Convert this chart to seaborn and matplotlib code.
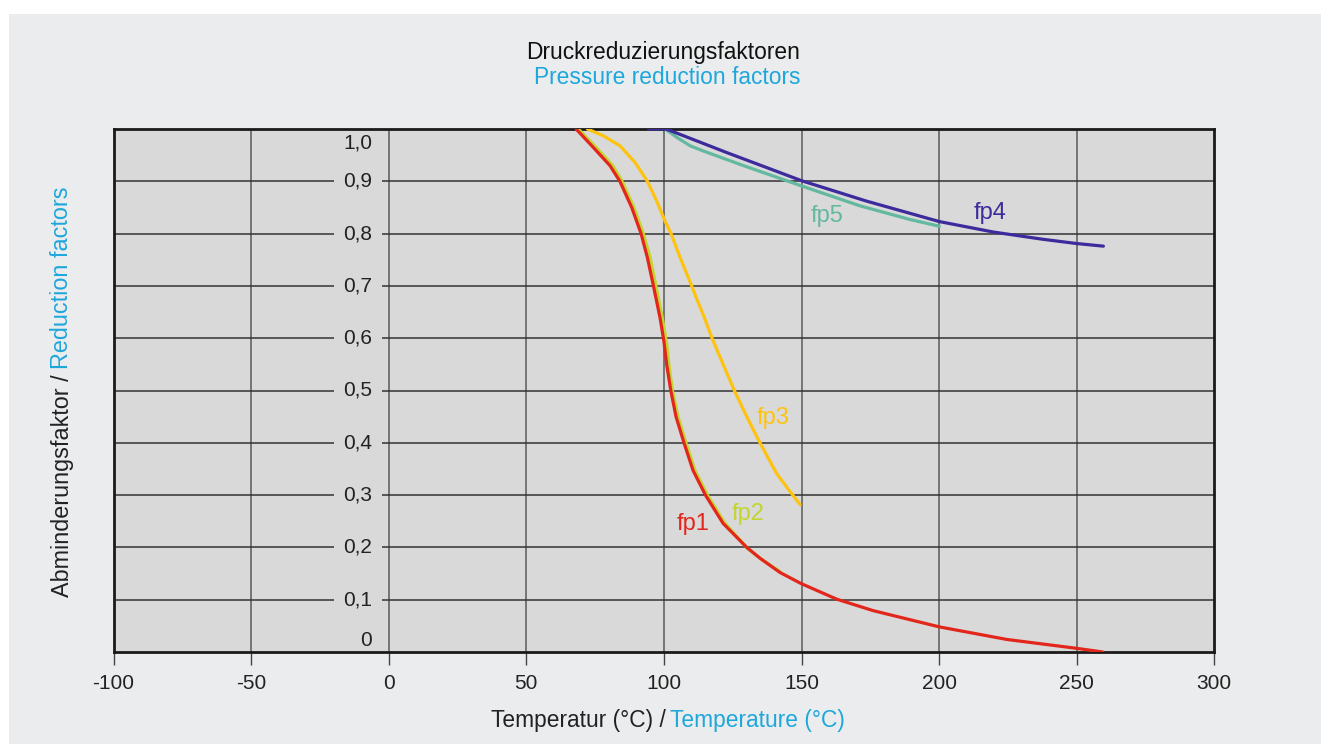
import numpy as np
import pandas as pd
import matplotlib
matplotlib.use("Agg")
import matplotlib.pyplot as plt
import seaborn as sns
from matplotlib.patches import Rectangle

# ---------------- data ----------------
fp1_x = [68.1, 74.3, 80.4, 84.0, 88.3, 91.7, 94.0, 96.2, 98.6, 100.0, 101.0, 102.5, 104.4,
         107.3, 110.6, 115.1, 121.5, 130.1, 135.0, 142.2, 149.8, 162.8, 176.1, 200.1,
         224.6, 250.0, 259.5]
fp1_y = [1.0, 0.965, 0.93, 0.90, 0.85, 0.80, 0.754, 0.70, 0.639, 0.594, 0.55, 0.50, 0.45,
         0.40, 0.347, 0.30, 0.246, 0.20, 0.179, 0.152, 0.131, 0.101, 0.079, 0.048,
         0.024, 0.007, 0.0]

fp2_x = [68.9, 75.3, 81.4, 84.8, 89.1, 92.5, 95.0, 97.1, 99.4, 101.0, 101.8, 103.1, 105.1,
         108.0, 111.3, 115.8, 122.2, 130.6, 136.0, 142.2]
fp2_y = [1.0, 0.965, 0.93, 0.90, 0.85, 0.80, 0.754, 0.70, 0.639, 0.59, 0.55, 0.50, 0.45,
         0.40, 0.347, 0.30, 0.246, 0.197, 0.175, 0.154]

fp3_x = [72.2, 78.0, 84.0, 89.5, 94.0, 97.4, 100.4, 102.6, 105.9, 110.1, 112.0, 114.3, 117.5,
         121.6, 125.6, 130.1, 135.2, 141.0, 145.8, 149.5]
fp3_y = [1.0, 0.987, 0.968, 0.936, 0.90, 0.862, 0.824, 0.80, 0.754, 0.70, 0.674, 0.645, 0.60,
         0.549, 0.50, 0.45, 0.397, 0.341, 0.307, 0.282]

fp4_x = [94.4, 100.5, 102.3, 122.8, 150.1, 173.7, 200.1, 219.7, 237.9, 250.0, 259.7]
fp4_y = [1.0, 1.0, 0.997, 0.955, 0.901, 0.862, 0.823, 0.803, 0.789, 0.781, 0.776]

fp5_x = [100.5, 104.7, 109.5, 114.3, 128.9, 150.1, 171.3, 189.4, 200.1]
fp5_y = [1.0, 0.984, 0.968, 0.958, 0.930, 0.891, 0.853, 0.827, 0.814]

series_names = ["fp1", "fp2", "fp3", "fp4", "fp5"]
series_colors = ["#e2261c", "#c3d52a", "#fdc30f", "#3b2b9c", "#62b99f"]

x_ticks = [-100, -50, 0, 50, 100, 150, 200, 250, 300]
y_ticks = [0.0, 0.1, 0.2, 0.3, 0.4, 0.5, 0.6, 0.7, 0.8, 0.9, 1.0]
y_tick_labels = ["0", "0,1", "0,2", "0,3", "0,4", "0,5", "0,6", "0,7", "0,8", "0,9", "1,0"]

# ---------------- figure ----------------
sns.set_theme(style="white")
plt.rcParams["font.family"] = ["Liberation Sans", "DejaVu Sans"]

W, H = 1321, 744
BG = "#ebeced"
PLOT_BG = "#d9d9d9"
TXT = "#222222"
CYAN = "#1ea7dc"

fig = plt.figure(figsize=(W / 100, H / 100), dpi=100, facecolor="white")
fig.patches.append(Rectangle((9 / W, 0), 1 - 9 / W, (H - 14) / H, transform=fig.transFigure,
                             facecolor=BG, edgecolor="none", zorder=-10))

ax = fig.add_axes([113.5 / W, (H - 652) / H, (1214.3 - 113.5) / W, (652 - 129) / H])
ax.set_zorder(2)
ax.set_facecolor(PLOT_BG)

frames = []
for name, xs, ys in zip(series_names, [fp1_x, fp2_x, fp3_x, fp4_x, fp5_x],
                        [fp1_y, fp2_y, fp3_y, fp4_y, fp5_y]):
    frames.append(pd.DataFrame({"T": xs, "f": ys, "series": name}))
df = pd.concat(frames, ignore_index=True)

# draw order: fp2 under fp1
draw_order = ["fp5", "fp4", "fp3", "fp2", "fp1"]
for name in draw_order:
    sub = df[df.series == name]
    sns.lineplot(data=sub, x="T", y="f", ax=ax, color=series_colors[series_names.index(name)],
                 linewidth=2.3, estimator=None, sort=False, legend=False, zorder=7)

ax.set_xlim(-100, 300)
ax.set_ylim(0, 1.0)
ax.set_xlabel("")
ax.set_ylabel("")

# grid
for xv in x_ticks[1:-1]:
    ax.axvline(xv, color="#5a5a5a", linewidth=1.1, zorder=1)
for yv in y_ticks[1:-1]:
    ax.axhline(yv, color="#333333", linewidth=1.1, zorder=1)

ax.set_xticks(x_ticks)
ax.set_xticklabels([str(v) for v in x_ticks])
ax.set_yticks([])
ax.tick_params(axis="x", direction="out", length=9, width=1.0, color="#444444",
               labelsize=15, labelcolor=TXT, pad=7, bottom=True)

for s in ax.spines.values():
    s.set_color("#1a1a1a")
    s.set_linewidth(2.0)
    s.set_zorder(6)

# y tick labels inside plot
for yv, lab in zip(y_ticks, y_tick_labels):
    if yv == 1.0:
        ax.text(-6, 0.973, lab, ha="right", va="center", fontsize=15, color=TXT, zorder=3)
    elif yv == 0.0:
        ax.text(-6, 0.022, lab, ha="right", va="center", fontsize=15, color=TXT, zorder=3)
    else:
        ax.text(-6, yv, lab, ha="right", va="center", fontsize=15, color=TXT, zorder=3,
                bbox=dict(boxstyle="square,pad=0.45", facecolor=PLOT_BG, edgecolor="none"))

# curve labels
label_pos = {"fp1": (110.5, 0.245), "fp2": (130.5, 0.264), "fp3": (139.8, 0.447),
             "fp4": (218.6, 0.840), "fp5": (159.2, 0.834)}
for name, col in zip(series_names, series_colors):
    lx, ly = label_pos[name]
    ax.text(lx, ly, name, color=col, fontsize=17, ha="center", va="center", zorder=8)

# ---------------- multi-colour texts ----------------
renderer = fig.canvas.get_renderer()


def fig_xy(px, py):
    return px / W, 1 - py / H


def multicolor(parts, cx, cy, fontsize, vertical=False, gap=5):
    texts = []
    sizes = []
    for s, c in parts:
        t = fig.text(0, 0, s, color=c, fontsize=fontsize, ha="left", va="center",
                     rotation=90 if vertical else 0, rotation_mode="anchor")
        bb = t.get_window_extent(renderer)
        sizes.append(bb.height if vertical else bb.width)
        texts.append(t)
    total = sum(sizes) + gap * (len(parts) - 1)
    if vertical:
        pos = (H - cy) - total / 2
        for t, sz in zip(texts, sizes):
            t.set_position((cx / W, pos / H))
            pos += sz + gap
    else:
        pos = cx - total / 2
        for t, sz in zip(texts, sizes):
            t.set_position((pos / W, 1 - cy / H))
            pos += sz + gap


fig.text(*fig_xy(663.5, 53), "Druckreduzierungsfaktoren", color="#111111", fontsize=16.4,
         ha="center", va="center")
fig.text(*fig_xy(667, 78), "Pressure reduction factors", color=CYAN, fontsize=16.4,
         ha="center", va="center")

multicolor([("Temperatur (°C) /", TXT), ("Temperature (°C)", CYAN)], 668, 720, 16.4)
multicolor([("Abminderungsfaktor /", TXT), ("Reduction factors", CYAN)], 62, 392, 16.8,
           vertical=True)

fig.savefig("out.png", dpi=100, facecolor="white")
